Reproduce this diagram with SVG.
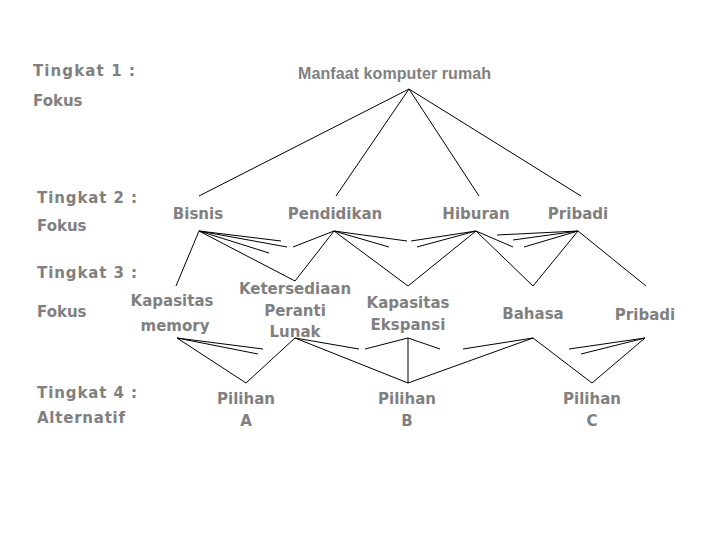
<svg xmlns="http://www.w3.org/2000/svg" width="720" height="540" viewBox="0 0 720 540">
<style>
text{font-family:"DejaVu Sans","Liberation Sans",sans-serif;font-size:15px;font-weight:bold;fill:#808080}
.c{text-anchor:middle}
.n{font-family:"Liberation Sans","DejaVu Sans",sans-serif;font-size:16px}
#connectors line{stroke:#000;stroke-width:1}
</style>
<rect width="720" height="540" fill="#fff"/>
<g id="labels">
<text x="33" y="76" textLength="102" lengthAdjust="spacing">Tingkat 1 :</text>
<text x="33" y="106">Fokus</text>
<text x="37" y="203" textLength="100" lengthAdjust="spacing">Tingkat 2 :</text>
<text x="37" y="231">Fokus</text>
<text x="37" y="278" textLength="100" lengthAdjust="spacing">Tingkat 3 :</text>
<text x="37" y="317">Fokus</text>
<text x="37" y="398" textLength="100" lengthAdjust="spacing">Tingkat 4 :</text>
<text x="37" y="423" textLength="88" lengthAdjust="spacing">Alternatif</text>
</g>
<g id="connectors">
<line x1="409" y1="89" x2="199" y2="196"/>
<line x1="409" y1="89" x2="336" y2="196"/>
<line x1="409" y1="89" x2="479" y2="196"/>
<line x1="409" y1="89" x2="581" y2="196"/>
<line x1="199" y1="231" x2="176" y2="286"/>
<line x1="199" y1="231" x2="281" y2="241"/>
<line x1="199" y1="231" x2="287" y2="247"/>
<line x1="199" y1="231" x2="269" y2="253"/>
<line x1="199" y1="231" x2="295" y2="281"/>
<line x1="334" y1="231" x2="293" y2="247"/>
<line x1="334" y1="231" x2="295" y2="281"/>
<line x1="334" y1="231" x2="407" y2="241"/>
<line x1="334" y1="231" x2="389" y2="247"/>
<line x1="334" y1="231" x2="408" y2="286"/>
<line x1="476" y1="231" x2="411" y2="241"/>
<line x1="476" y1="231" x2="417" y2="247"/>
<line x1="476" y1="231" x2="408" y2="286"/>
<line x1="476" y1="231" x2="513" y2="247"/>
<line x1="476" y1="231" x2="533" y2="286"/>
<line x1="578" y1="231" x2="497" y2="235"/>
<line x1="578" y1="231" x2="513" y2="240"/>
<line x1="578" y1="231" x2="524" y2="247"/>
<line x1="578" y1="231" x2="533" y2="286"/>
<line x1="578" y1="231" x2="646" y2="286"/>
<line x1="177" y1="338" x2="263" y2="349"/>
<line x1="177" y1="338" x2="258" y2="354"/>
<line x1="177" y1="338" x2="246" y2="383"/>
<line x1="295" y1="338" x2="246" y2="383"/>
<line x1="295" y1="338" x2="359" y2="349"/>
<line x1="295" y1="338" x2="408" y2="383"/>
<line x1="408" y1="338" x2="365" y2="349"/>
<line x1="408" y1="338" x2="440" y2="349"/>
<line x1="408" y1="338" x2="408" y2="383"/>
<line x1="533" y1="338" x2="463" y2="349"/>
<line x1="533" y1="338" x2="408" y2="383"/>
<line x1="533" y1="338" x2="592" y2="383"/>
<line x1="645" y1="338" x2="569" y2="349"/>
<line x1="645" y1="338" x2="581" y2="354"/>
<line x1="645" y1="338" x2="592" y2="383"/>
</g>
<g id="n-root"><text class="n" x="298" y="79" textLength="193" lengthAdjust="spacing">Manfaat komputer rumah</text></g>
<g id="n-bisnis"><text class="c" x="198" y="219">Bisnis</text></g>
<g id="n-pendidikan"><text class="c" x="335" y="219">Pendidikan</text></g>
<g id="n-hiburan"><text class="c" x="476" y="219">Hiburan</text></g>
<g id="n-pribadi2"><text class="c" x="578" y="219">Pribadi</text></g>
<g id="n-memori"><text class="c" x="172" y="306">Kapasitas</text><text class="c" x="175" y="331">memory</text></g>
<g id="n-lunak"><text class="c" x="295" y="294">Ketersediaan</text><text class="c" x="295" y="316">Peranti</text><text class="c" x="295" y="337">Lunak</text></g>
<g id="n-ekspansi"><text class="c" x="408" y="308">Kapasitas</text><text class="c" x="408" y="330">Ekspansi</text></g>
<g id="n-bahasa"><text class="c" x="533" y="319">Bahasa</text></g>
<g id="n-pribadi3"><text class="c" x="645" y="320">Pribadi</text></g>
<g id="n-a"><text class="c" x="246" y="404">Pilihan</text><text class="c" x="246" y="426">A</text></g>
<g id="n-b"><text class="c" x="407" y="404">Pilihan</text><text class="c" x="407" y="426">B</text></g>
<g id="n-c"><text class="c" x="592" y="404">Pilihan</text><text class="c" x="592" y="426">C</text></g>
</svg>
